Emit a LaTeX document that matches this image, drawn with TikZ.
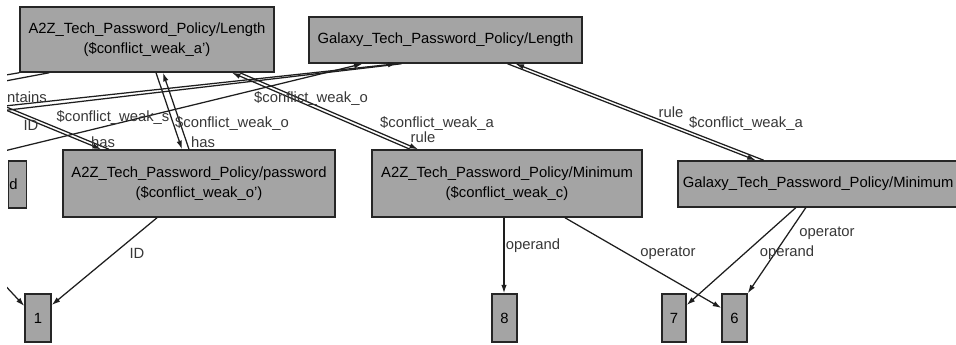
\documentclass[tikz,border=0pt]{standalone}
\usepackage{fontspec}
\setmainfont{Liberation Sans}
\usetikzlibrary{arrows.meta,calc}
\definecolor{boxgray}{RGB}{164,164,164}
\definecolor{edgeink}{RGB}{30,30,30}
\definecolor{labelink}{RGB}{55,55,55}
\tikzset{
  box/.style={draw=black!85, line width=1.5pt, fill=boxgray, inner sep=0pt, align=center,
    font=\fontsize{14.8}{20.5}\selectfont},
  valbox/.style={box, minimum width=25pt, minimum height=48pt},
  link/.style={draw=edgeink, line width=1.25pt},
  arr/.style={link, -{Latex[length=8.5pt,width=5.5pt]}},
  elabel/.style={text=labelink, inner sep=0pt, font=\fontsize{14.8}{17}\selectfont},
}
\begin{document}
\begin{tikzpicture}[x=1pt,y=-1pt]
\useasboundingbox (0,0) rectangle (956,345);
\fill[white] (0,0) rectangle (956,345);
\clip (7,0) rectangle (956,345);

% policy nodes
\node[box, minimum width=254pt, minimum height=65pt] (lenA) at (147,39.5)
  {A2Z\_Tech\_Password\_Policy/Length\\(\$conflict\_weak\_a')};
\node[box, minimum width=273pt, minimum height=46pt] (lenG) at (445.5,40)
  {Galaxy\_Tech\_Password\_Policy/Length};
\node[box, minimum width=272pt, minimum height=67pt] (pwA) at (199,183.5)
  {A2Z\_Tech\_Password\_Policy/password\\(\$conflict\_weak\_o')};
\node[box, anchor=west, text width=16pt, inner xsep=1pt, align=left, minimum height=47pt] (pwG) at (7.5,184.5) {d};
\node[box, minimum width=270pt, minimum height=67pt] (minA) at (507,183.5)
  {A2Z\_Tech\_Password\_Policy/Minimum\\(\$conflict\_weak\_c)};
\node[box, anchor=west, text width=290pt, inner xsep=5pt, align=left, minimum height=46pt] (minG) at (677,184)
  {Galaxy\_Tech\_Password\_Policy/Minimum};

% value nodes
\node[valbox, minimum width=26pt] (n1) at (38,318) {1};
\node[valbox] (n8) at (504.5,318) {8};
\node[valbox, minimum width=24pt] (n7) at (674,318) {7};
\node[valbox] (n6) at (734.5,318) {6};

% loose ends leaving the view on the left
\coordinate (offA) at (-4,106);
\coordinate (offB) at (4,106);
\coordinate (offC) at (0,76);
\coordinate (offD) at (0,82);
\coordinate (offE) at (0,106.5);
\coordinate (offH) at (0,111);
\coordinate (offF) at (0,152);
\coordinate (offG) at (0,280);

% connectors
\draw[arr] ([xshift=-42pt]pwA.south) -- ([yshift=13pt]n1.east);
\draw[arr] ([xshift=-3pt]minA.south) -- ([xshift=-0.5pt]n8.north);
\draw[arr] ([xshift=58pt]minA.south) -- ([yshift=10pt]n6.west);
\draw[arr] ([xshift=-32pt]minG.south) -- ([yshift=13pt]n7.east);
\draw[arr] ([xshift=-22pt]minG.south) -- (n6.north east);

\draw[arr] ([xshift=62pt]lenG.south) -- ([xshift=-72pt]minG.north);
\draw[arr] ([xshift=-64pt]minG.north) -- ([xshift=70pt]lenG.south);

\draw[arr] ([xshift=93pt]lenA.south) -- ([xshift=-89pt]minA.north);
\draw[arr] ([xshift=-97pt]minA.north) -- ([xshift=85pt]lenA.south);

\draw[arr] ([xshift=9pt]lenA.south) -- ([xshift=-17pt]pwA.north);
\draw[arr] ([xshift=-10pt]pwA.north) -- ([xshift=16pt]lenA.south);

\draw[arr] (offA) -- ([xshift=-98pt]pwA.north);
\draw[link] (offB) -- ([xshift=-90pt]pwA.north);

\draw[link] (offC) -- (lenA.south west);
\draw[link] (offD) -- ([xshift=30pt]lenA.south west);

\draw[arr] (offE) -- ([xshift=-49pt]lenG.south);
\draw[link] (offH) -- ([xshift=-44pt]lenG.south);
\draw[arr] (offF) -- ([xshift=-83pt]lenG.south);

\draw[arr] (offG) -- ([yshift=12pt]n1.west);

% connector labels
\node[elabel, anchor=west] (lbContains) at (7,97) {ntains};
\node[elabel] (lbIdL) at (31,125) {ID};
\node[elabel] (lbWs) at (113,117) {\$conflict\_weak\_s};
\node[elabel] (lbHasL) at (103,142) {has};
\node[elabel] (lbWo1) at (232,123) {\$conflict\_weak\_o};
\node[elabel] (lbHasR) at (203,142) {has};
\node[elabel] (lbWo2) at (311,98) {\$conflict\_weak\_o};
\node[elabel] (lbWa1) at (437,123) {\$conflict\_weak\_a};
\node[elabel] (lbRule1) at (423,137) {rule};
\node[elabel] (lbRule2) at (671,112) {rule};
\node[elabel] (lbWa2) at (746,123) {\$conflict\_weak\_a};
\node[elabel] (lbId) at (137,253) {ID};
\node[elabel] (lbOpd1) at (533,246) {operand};
\node[elabel] (lbOpr1) at (668,253) {operator};
\node[elabel] (lbOpr2) at (827,233) {operator};
\node[elabel] (lbOpd2) at (787,253) {operand};
\end{tikzpicture}
\end{document}
